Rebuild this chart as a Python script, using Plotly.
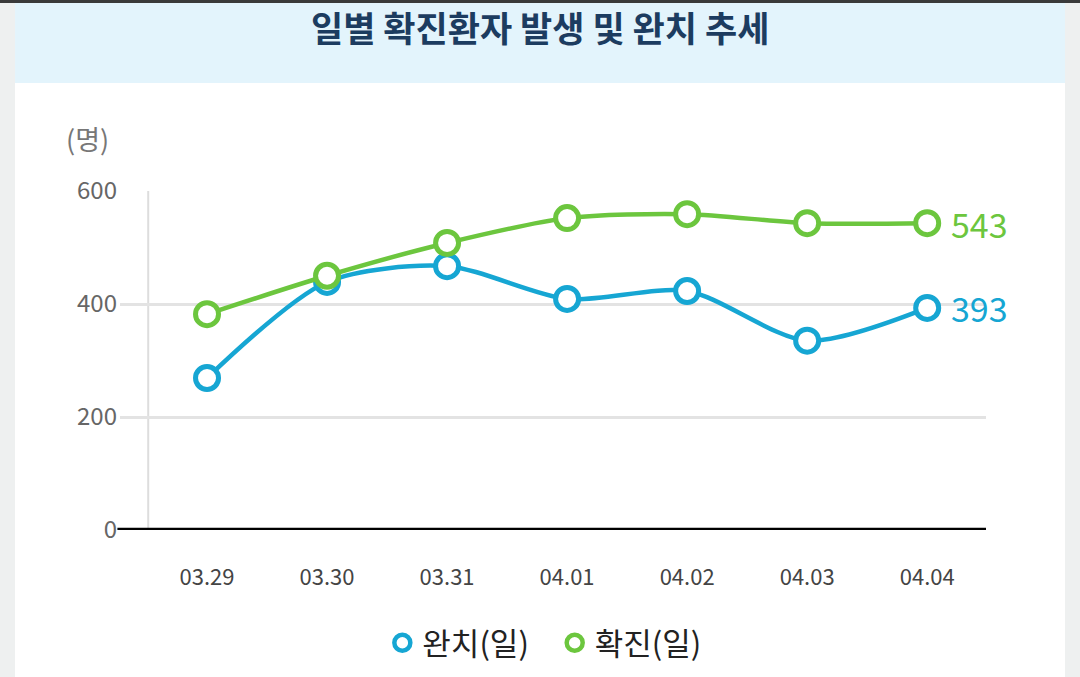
import plotly.graph_objects as go

# data
dates = ["03.29", "03.30", "03.31", "04.01", "04.02", "04.03", "04.04"]
recovered = [269, 439, 467, 409, 423, 335, 393]   # 완치(일)
confirmed = [382, 450, 508, 552, 559, 543, 543]   # 확진(일)
y_ticks = [0, 200, 400, 600]

blue = "#16a6d3"
green = "#6cc63e"
font = "Noto Sans CJK KR"

fig = go.Figure()

# plot area runs from x=120 to 986 px; categories sit at 207 + 120*i px
x_idx = list(range(len(dates)))

series = [("완치(일)" + "\u00a0" * 3, recovered, blue), ("확진(일)", confirmed, green)]
for name, vals, col in series:
    fig.add_trace(go.Scatter(
        x=x_idx, y=vals, mode="lines+markers", name=name,
        line=dict(color=col, width=4.5, shape="spline", smoothing=0.8),
        marker=dict(symbol="circle", size=23, color="white", line=dict(color=col, width=5)),
        cliponaxis=False, showlegend=False))
    # legend-only entry (circle without line)
    fig.add_trace(go.Scatter(
        x=[None], y=[None], mode="markers", name=name,
        marker=dict(symbol="circle", size=18, color="white", line=dict(color=col, width=4.5))))

# value labels at the last point
fig.add_annotation(x=x_idx[-1], y=confirmed[-1], text=str(confirmed[-1]), xanchor="left", yanchor="middle",
                   xshift=22, showarrow=False, font=dict(family=font, size=34, color=green))
fig.add_annotation(x=x_idx[-1], y=recovered[-1], text=str(recovered[-1]), xanchor="left", yanchor="middle",
                   xshift=22, showarrow=False, font=dict(family=font, size=34, color=blue))

# unit label
fig.add_annotation(xref="paper", yref="paper", x=-0.038, y=1.155, text="(명)", showarrow=False,
                   xanchor="center", yanchor="middle", font=dict(family=font, size=27, color="#777777"))

# title
fig.add_annotation(xref="paper", yref="paper", x=0.485, y=1.484, text="<b>일별 확진환자 발생 및 완치 추세</b>",
                   showarrow=False, xanchor="center", yanchor="middle",
                   font=dict(family=font, size=35, color="#1c3c60", weight=900))

shapes = [
    # white panel
    dict(type="rect", xref="paper", yref="paper", x0=-0.1212, x1=1.0912, y0=-0.45, y1=1.3186,
         fillcolor="white", line_width=0, layer="below"),
    # light blue title band
    dict(type="rect", xref="paper", yref="paper", x0=-0.1212, x1=1.0912, y0=1.3186, y1=1.57,
         fillcolor="#e3f4fc", line_width=0, layer="below"),
    # dark strip at very top
    dict(type="rect", xref="paper", yref="paper", x0=-0.2, x1=1.2, y0=1.5545, y1=1.57,
         fillcolor="#3a3a3a", line_width=0, layer="below"),
    # vertical axis line
    dict(type="line", xref="x", yref="y", x0=-0.49, x1=-0.49, y0=0, y1=600,
         line=dict(color="#dddddd", width=2), layer="below"),
    # baseline
    dict(type="line", xref="paper", yref="y", x0=-0.003, x1=1, y0=0, y1=0,
         line=dict(color="#000000", width=4.5)),
]

fig.update_layout(
    width=1080, height=677,
    paper_bgcolor="#eef0f0", plot_bgcolor="white",
    margin=dict(l=120, r=94, t=191, b=147),
    shapes=shapes,
    font=dict(family=font),
    legend=dict(orientation="h", x=0.49, xanchor="center", yref="container", y=0.05, yanchor="middle",
                font=dict(family=font, size=31, color="#222222"), itemwidth=30,
                bgcolor="rgba(0,0,0,0)"),
)
fig.update_xaxes(range=[-0.725, 6.49], tickvals=x_idx, ticktext=dates, showgrid=False,
                 zeroline=False, showline=False, ticks="", ticklabelstandoff=32,
                 tickfont=dict(family=font, size=22, color="#444444"), fixedrange=True)
fig.update_yaxes(range=[0, 600], tickvals=y_ticks, showgrid=True, gridcolor="#e3e3e3", gridwidth=2.5,
                 zeroline=False, showline=False, ticks="", ticklabelstandoff=2,
                 tickfont=dict(family=font, size=24, color="#666666"), fixedrange=True)

# drop the default 8px body margin so the figure sits at the window corner
fig.write_html("out.html", config={"displayModeBar": False},
               post_script="document.body.style.margin='0';")
